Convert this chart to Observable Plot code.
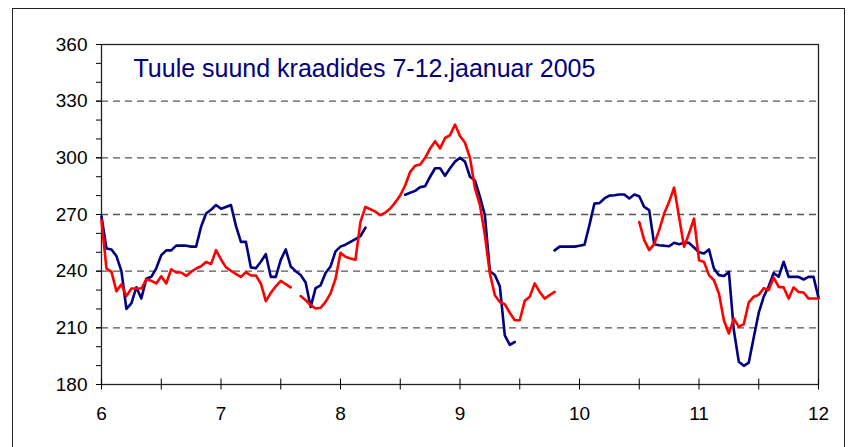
<!DOCTYPE html>
<html><head><meta charset="utf-8">
<script src="https://cdn.jsdelivr.net/npm/d3@7"></script>
<script src="https://cdn.jsdelivr.net/npm/@observablehq/plot@0.6"></script>
<style>
body{margin:0;background:#fff;}
#wrap{position:relative;width:848px;height:447px;overflow:hidden;}
#border{position:absolute;left:12px;top:8px;width:833px;height:470px;border:1.5px solid #222;box-sizing:border-box;pointer-events:none;}
</style></head><body>
<div id="wrap"><div id="border"></div></div>
<script>
const title = "Tuule suund kraadides 7-12.jaanuar 2005";
const firstDay = 6;
const hoursPerDay = 24;
const xTicks = [6, 7, 8, 9, 10, 11, 12];
const xMinorTicks = [6, 6.5, 7, 7.5, 8, 8.5, 9, 9.5, 10, 10.5, 11, 11.5, 12];
const yTicks = [180, 210, 240, 270, 300, 330, 360];
const yMinorTicks = [180, 190, 200, 210, 220, 230, 240, 250, 260, 270, 280, 290, 300, 310, 320, 330, 340, 350, 360];
const gridValues = [210, 240, 270, 300, 330];

// hourly values, null = missing
const navy = [
 269,252,251.5,248,240,220,223,231.5,225.5,236,237,241.5,248.5,251,251,253.5,253.5,253.5,253,253,263.5,270.5,272.5,275,
 273,274,275,264,255.5,255.5,242,241.5,245,249,237,237,246,251.5,242.5,240,238,234,221,231,232.5,239,242.5,250.5,
 253,254,255.5,257,258.5,263,null,null,null,null,null,null,null,280.5,281.5,282.5,284.5,285,290,294.5,294.5,290.5,294.5,298,
 300,298,290,288,279.5,269.5,240,238,232,206,201,202.5,null,null,null,null,null,null,null,251,253,253,253,253,
 253.5,254,264.5,275.8,276,278.5,280,280.2,280.6,280.6,278.5,280.6,279.7,274,272.3,254.3,253.7,253.5,253.2,255,254.3,255,255,252.5,
 250,249.4,251.5,241.4,237.9,237.4,239.6,208.7,192,189.9,191.6,205,218,226.5,232,239,237,245,237,237,237,235.6,237,237,
 226
];
const red = [
 267,241.4,239.6,229.4,233,226.8,230.8,230.8,230.8,235.6,234.9,233.5,237.3,233.5,241,239.3,239.3,237.5,239.6,241.4,242.6,244.9,243.7,251.1,
 246.2,242,240.2,238.5,237,239.5,237.7,237.7,233.5,224.1,228.5,232,234.9,233.1,231.4,null,226.8,224.6,222,220.2,220.6,223.7,228.2,236,
 249.7,247.6,246.7,246,266,274,272.8,271.5,269.6,271,273.2,276.4,280.2,285.5,292.6,295.8,296.5,300,305,308.8,305,310.5,312,317.6,
 311.6,308,300,284,275,259,238.8,227.3,223.7,222.5,218,214,214,224.3,226.4,233.5,229,225.5,227.3,229,null,null,null,null,
 null,null,null,null,null,null,null,null,null,null,null,null,266,256.4,251.1,254.3,261.7,270.5,276.7,284.3,268.7,252.9,260,267.9,
 245.8,244.9,237.9,235.2,228.2,214,207,214.9,210.5,212,223.5,226.5,227.5,231,230,236.6,231.7,231.4,225.5,231.4,229,228.7,225.5,225.5,
 225.5
];

const rows = navy.map((v, i) => ({x: firstDay + i / hoursPerDay, navy: v, red: red[i]}));

const chart = Plot.plot({
  width: 848,
  height: 447,
  marginLeft: 101,
  marginRight: 30,
  marginTop: 44,
  marginBottom: 63,
  style: {fontFamily: "'Liberation Sans', Arial, sans-serif", background: "transparent", color: "#000"},
  x: {domain: [6, 12], label: null},
  y: {domain: [180, 360], label: null},
  marks: [
    Plot.gridY(gridValues, {stroke: "#555", strokeOpacity: 1, strokeWidth: 1.3, strokeDasharray: "7,5"}),
    Plot.frame({stroke: "#222", strokeWidth: 1.3}),
    Plot.line(rows, {x: "x", y: "navy", stroke: "#000080", strokeWidth: 2.6}),
    Plot.line(rows, {x: "x", y: "red", stroke: "#ff0000", strokeWidth: 2.6}),
    Plot.axisY({ticks: yMinorTicks, tickSize: 5, tickFormat: () => ""}),
    Plot.axisY({ticks: yTicks, tickSize: 5, tickPadding: 9, fontSize: 19, tickFormat: d => String(d)}),
    Plot.axisX({ticks: xMinorTicks, tickSize: 11, dy: -5.5, tickFormat: () => ""}),
    Plot.axisX({ticks: xTicks, tickSize: 0, tickPadding: 22, fontSize: 19, tickFormat: d => String(d)}),
    Plot.text([title], {frameAnchor: "top-left", dx: 32, dy: 15, text: d => d, fill: "#000080", fontSize: 25, textAnchor: "start", lineAnchor: "top"})
  ]
});
document.getElementById("wrap").appendChild(chart);
</script>
</body></html>
